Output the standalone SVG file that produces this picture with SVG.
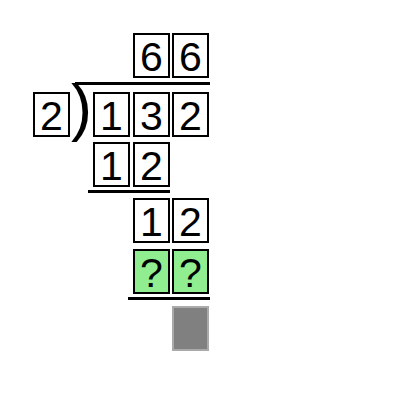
<svg xmlns="http://www.w3.org/2000/svg" width="400" height="400" viewBox="0 0 400 400">
<style>
.b{fill:#fff;stroke:#000;stroke-width:2}
.g{fill:#90ee90;stroke:#000;stroke-width:2}
.t{font-family:"Liberation Sans",Arial,sans-serif;font-size:41px;text-anchor:middle;fill:#000}
.bar{fill:#000}
</style>
<rect width="400" height="400" fill="#fff"/>
<g id="quotient">
<rect class="b" x="134" y="34" width="35" height="43"/><text class="t" x="151.5" y="71">6</text>
<rect class="b" x="173" y="34" width="35" height="43"/><text class="t" x="190.5" y="71">6</text>
</g>
<g id="divisor">
<rect class="b" x="34" y="93" width="35" height="43"/><text class="t" x="51.5" y="130">2</text>
<text x="71" y="129" style="font-family:'Liberation Sans',Arial,sans-serif;font-size:63px;fill:#000">)</text>
</g>
<g id="dividend">
<rect class="b" x="94" y="93" width="35" height="43"/><text class="t" x="111.5" y="130">1</text>
<rect class="b" x="134" y="93" width="35" height="43"/><text class="t" x="151.5" y="130">3</text>
<rect class="b" x="173" y="93" width="35" height="43"/><text class="t" x="190.5" y="130">2</text>
</g>
<g id="sub1">
<rect class="b" x="94" y="143" width="35" height="43"/><text class="t" x="111.5" y="180">1</text>
<rect class="b" x="134" y="143" width="35" height="43"/><text class="t" x="151.5" y="180">2</text>
</g>
<g id="rem1">
<rect class="b" x="134" y="199" width="35" height="43"/><text class="t" x="151.5" y="236">1</text>
<rect class="b" x="173" y="199" width="35" height="43"/><text class="t" x="190.5" y="236">2</text>
</g>
<g id="sub2">
<rect class="g" x="134" y="250" width="35" height="43"/><text class="t" x="151.5" y="287">?</text>
<rect class="g" x="173" y="250" width="35" height="43"/><text class="t" x="190.5" y="287">?</text>
</g>
<g id="result">
<rect x="173" y="307" width="35" height="43" fill="#808080" stroke="#aaaaaa" stroke-width="2"/>
</g>
<g id="connectors">
<rect class="bar" x="75" y="82" width="135" height="3"/>
<rect class="bar" x="88" y="190" width="82" height="3"/>
<rect class="bar" x="128" y="297" width="82" height="3"/>
</g>
</svg>
